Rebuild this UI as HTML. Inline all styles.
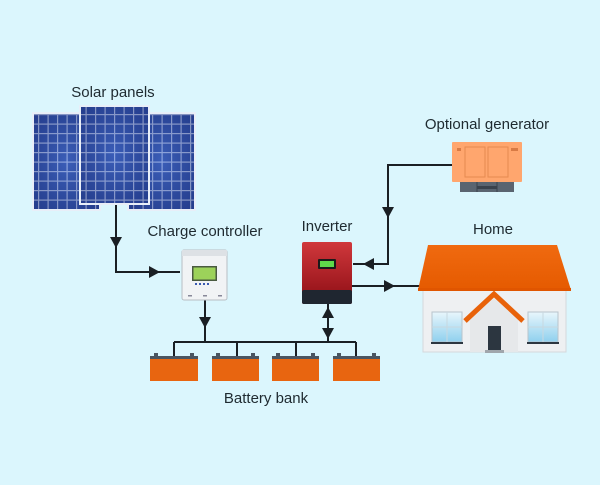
<!DOCTYPE html>
<html><head><meta charset="utf-8"><style>
html,body{margin:0;padding:0;background:#dbf6fd;}
svg{display:block}
text{font-family:"Liberation Sans",sans-serif;font-size:15px;fill:#1e2a30;text-anchor:middle}
</style></head><body>
<svg width="600" height="485" viewBox="0 0 600 485" xmlns="http://www.w3.org/2000/svg">
<defs>
<pattern id="cells" width="9.5" height="9.5" patternUnits="userSpaceOnUse">
<rect width="9.5" height="9.5" fill="#2c4aa0"/>
<rect x="0" y="0" width="9.5" height="1.2" fill="#cfd8f0"/>
<rect x="0" y="0" width="1.2" height="9.5" fill="#cfd8f0"/>
</pattern>
<radialGradient id="sh" cx="0.5" cy="0.5" r="0.7"><stop offset="0" stop-color="#4a72d0" stop-opacity="0.5"/><stop offset="1" stop-color="#1a2a70" stop-opacity="0.4"/></radialGradient>
<linearGradient id="inv" x1="0" y1="0" x2="0" y2="1"><stop offset="0" stop-color="#d0383c"/><stop offset="1" stop-color="#8c0d14"/></linearGradient>
<linearGradient id="roof" x1="0" y1="0" x2="0" y2="1"><stop offset="0" stop-color="#f06a10"/><stop offset="1" stop-color="#e55a00"/></linearGradient>
<linearGradient id="win" x1="0" y1="0" x2="0" y2="1"><stop offset="0" stop-color="#e8f6fc"/><stop offset="1" stop-color="#8fd0ee"/></linearGradient>
</defs>
<rect width="600" height="485" fill="#dbf6fd"/>
<!-- labels -->
<text x="113" y="97">Solar panels</text>
<text x="205" y="236">Charge controller</text>
<text x="327" y="231">Inverter</text>
<text x="487" y="129">Optional generator</text>
<text x="493" y="234">Home</text>
<text x="266" y="403">Battery bank</text>
<!-- panels -->
<rect x="32" y="112" width="69" height="99" fill="#e8eef8"/>
<rect x="34" y="114" width="65" height="95" fill="url(#cells)"/>
<rect x="34" y="114" width="65" height="95" fill="url(#sh)"/>
<rect x="127" y="112" width="69" height="99" fill="#e8eef8"/>
<rect x="129" y="114" width="65" height="95" fill="url(#cells)"/>
<rect x="129" y="114" width="65" height="95" fill="url(#sh)"/>
<rect x="79" y="105" width="71" height="100" fill="#e8eef8"/>
<rect x="81" y="107" width="67" height="96" fill="url(#cells)"/>
<rect x="81" y="107" width="67" height="96" fill="url(#sh)"/>
<!-- connectors -->
<g stroke="#1a1f24" stroke-width="2" fill="none">
<polyline points="116,205 116,272 180,272"/>
<line x1="205" y1="300" x2="205" y2="342"/>
<line x1="174" y1="342" x2="356" y2="342"/>
<line x1="174" y1="342" x2="174" y2="357"/>
<line x1="237" y1="342" x2="237" y2="357"/>
<line x1="296" y1="342" x2="296" y2="357"/>
<line x1="356" y1="342" x2="356" y2="357"/>
<line x1="328" y1="304" x2="328" y2="342"/>
<polyline points="452,165 388,165 388,264 353,264"/>
<line x1="352" y1="286" x2="420" y2="286"/>
</g>
<g fill="#1a1f24">
<polygon points="110,237 122,237 116,248"/>
<polygon points="149,266 149,278 160,272"/>
<polygon points="199,317 211,317 205,328"/>
<polygon points="322,318 334,318 328,307"/>
<polygon points="322,328 334,328 328,339"/>
<polygon points="382,207 394,207 388,218"/>
<polygon points="374,258 374,270 363,264"/>
<polygon points="384,280 384,292 395,286"/>
</g>
<!-- charge controller -->
<rect x="182" y="250" width="45" height="50" rx="2" fill="#f1f3f5" stroke="#b8bec4"/>
<rect x="182" y="250" width="45" height="6" fill="#dde1e5"/>
<rect x="192" y="266" width="25" height="15" fill="#4a5a40"/>
<rect x="193.5" y="267.5" width="22" height="12" fill="#9cd25a"/>
<g fill="#3a5ab0"><rect x="195" y="283" width="2" height="2"/><rect x="199" y="283" width="2" height="2"/><rect x="203" y="283" width="2" height="2"/><rect x="207" y="283" width="2" height="2"/></g>
<g fill="#889"><rect x="188" y="295" width="4" height="1.5"/><rect x="203" y="295" width="4" height="1.5"/><rect x="218" y="295" width="4" height="1.5"/></g>
<!-- inverter -->
<rect x="302" y="242" width="50" height="62" rx="2" fill="url(#inv)"/>
<rect x="302" y="290" width="50" height="14" rx="2" fill="#1f2630"/>
<rect x="318" y="259" width="18" height="10" rx="1" fill="#1a1a1a"/>
<rect x="320" y="261" width="14" height="6" fill="#5fd94a"/>
<!-- generator -->
<rect x="460" y="182" width="54" height="10" fill="#5a6470"/>
<rect x="477" y="186" width="20" height="3" fill="#3a424c"/>
<line x1="477" y1="182" x2="477" y2="192" stroke="#3a424c"/>
<line x1="497" y1="182" x2="497" y2="192" stroke="#3a424c"/>
<rect x="452" y="142" width="70" height="40" rx="1" fill="#ffa66e"/>
<rect x="465" y="147" width="20" height="30" fill="none" stroke="#e68a50"/>
<rect x="488" y="147" width="20" height="30" fill="none" stroke="#e68a50"/>
<rect x="457" y="148" width="4" height="3" fill="#d87a44"/>
<rect x="511" y="148" width="7" height="3" fill="#d87a44"/>
<!-- batteries -->
<g fill="#e86510">
<rect x="150" y="359" width="48" height="22"/><rect x="212" y="359" width="47" height="22"/><rect x="272" y="359" width="47" height="22"/><rect x="333" y="359" width="47" height="22"/>
</g>
<g fill="#4a5560">
<rect x="150" y="356" width="48" height="3"/><rect x="212" y="356" width="47" height="3"/><rect x="272" y="356" width="47" height="3"/><rect x="333" y="356" width="47" height="3"/>
<rect x="154" y="353" width="4" height="3"/><rect x="190" y="353" width="4" height="3"/>
<rect x="216" y="353" width="4" height="3"/><rect x="251" y="353" width="4" height="3"/>
<rect x="276" y="353" width="4" height="3"/><rect x="311" y="353" width="4" height="3"/>
<rect x="337" y="353" width="4" height="3"/><rect x="372" y="353" width="4" height="3"/>
</g>
<!-- home -->
<rect x="423" y="288" width="143" height="64" fill="#eef0f2" stroke="#d4d8dc"/>
<polygon points="428,245 557,245 571,290 418,290" fill="url(#roof)"/>
<rect x="418" y="288" width="153" height="3" fill="#e05500"/>
<polygon points="470,320 494,298 518,320 518,352 470,352" fill="#e6e8ea"/>
<polyline points="465,321 494,294 523,321" fill="none" stroke="#e8620a" stroke-width="5"/>
<rect x="488" y="326" width="13" height="24" fill="#2c3640"/>
<rect x="485" y="350" width="19" height="3" fill="#a0a6ac"/>
<rect x="432" y="312" width="30" height="30" fill="url(#win)" stroke="#b8c4cc"/>
<line x1="447" y1="312" x2="447" y2="342" stroke="#c8d8e0"/><line x1="432" y1="327" x2="462" y2="327" stroke="#c8d8e0"/>
<rect x="431" y="342" width="32" height="2" fill="#2c3640"/>
<rect x="528" y="312" width="30" height="30" fill="url(#win)" stroke="#b8c4cc"/>
<line x1="543" y1="312" x2="543" y2="342" stroke="#c8d8e0"/><line x1="528" y1="327" x2="558" y2="327" stroke="#c8d8e0"/>
<rect x="527" y="342" width="32" height="2" fill="#2c3640"/>
</svg>
</body></html>
